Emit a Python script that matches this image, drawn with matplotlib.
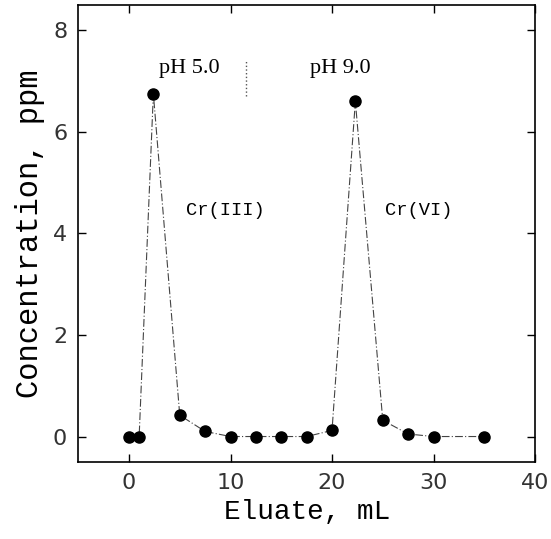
#!/usr/bin/env python3

import matplotlib.pyplot as plt


ELUATE_ML = [0, 1, 2.4, 5, 7.5, 10, 12.5, 15, 17.5, 20, 22.3, 25, 27.5, 30, 35]
CONC_PPM = [0, 0, 6.75, 0.42, 0.1, 0, 0, 0, 0, 0.12, 6.6, 0.32, 0.05, 0, 0]

X_TICKS = [0, 10, 20, 30, 40]
Y_TICKS = [0, 2, 4, 6, 8]

PH_SWITCH_ML = 11.5

LABELS = [
    ("pH 5.0", 5.9, 7.25, 16, "Liberation Serif"),
    ("pH 9.0", 20.8, 7.25, 16, "Liberation Serif"),
    ("Cr(III)", 9.5, 4.45, 13.5, "Liberation Mono"),
    ("Cr(VI)", 28.5, 4.45, 13.5, "Liberation Mono"),
]


def main():
    figure = plt.figure(figsize=(5.51, 5.39), dpi=100)
    axis = figure.add_axes([0.142, 0.143, 0.829, 0.848])

    axis.plot(
        ELUATE_ML,
        CONC_PPM,
        color="#444444",
        linestyle=(0, (7, 2, 1, 2)),
        linewidth=0.8,
        marker="o",
        markersize=8,
        markerfacecolor="black",
        markeredgecolor="black",
    )

    axis.axvline(PH_SWITCH_ML, ymin=0.80, ymax=0.88, color="#555555",
                 linestyle=":", linewidth=1)

    for text, x, y, size, family in LABELS:
        axis.text(x, y, text, ha="center", va="center", fontsize=size,
                  family=family)

    axis.set_xlim(-5, 40)
    axis.set_ylim(-0.5, 8.5)
    axis.set_xticks(X_TICKS)
    axis.set_yticks(Y_TICKS)
    axis.tick_params(direction="in", length=6, width=1, labelsize=16,
                     top=True, right=True, pad=8)
    for label in axis.get_xticklabels() + axis.get_yticklabels():
        label.set_family("DejaVu Sans")
        label.set_color("#333333")
    for spine in axis.spines.values():
        spine.set_linewidth(1.2)

    axis.set_xlabel("Eluate, mL", family="Liberation Mono", fontsize=20)
    axis.set_ylabel("Concentration, ppm", family="Liberation Mono",
                    fontsize=22, labelpad=6)

    figure.savefig("out.png", dpi=100)
    plt.close(figure)


if __name__ == "__main__":
    main()
